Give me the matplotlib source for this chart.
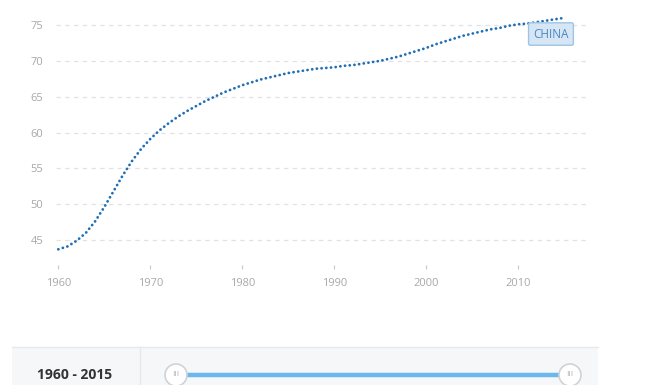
import matplotlib
matplotlib.use("Agg")
import matplotlib.pyplot as plt
from matplotlib.patches import Rectangle, Ellipse
from matplotlib.lines import Line2D

plt.rcParams['font.family'] = ['Open Sans', 'DejaVu Sans']

years = list(range(1960, 2016))
life_expectancy = [
    43.7, 44.1, 44.9, 46.0, 47.6, 49.6, 51.8, 54.0, 56.0, 57.7,
    59.1, 60.3, 61.3, 62.2, 63.0, 63.7, 64.4, 65.0, 65.6, 66.1,
    66.6, 67.0, 67.4, 67.7, 68.0, 68.3, 68.5, 68.7, 68.9, 69.0,
    69.1, 69.3, 69.4, 69.6, 69.8, 70.0, 70.3, 70.6, 71.0, 71.4,
    71.8, 72.3, 72.7, 73.1, 73.5, 73.8, 74.1, 74.4, 74.6, 74.9,
    75.1, 75.2, 75.4, 75.6, 75.8, 76.0,
]
series_label = "CHINA"
y_ticks = [45, 50, 55, 60, 65, 70, 75]
x_ticks = [1960, 1970, 1980, 1990, 2000, 2010]

W, H = 655, 385
fig = plt.figure(figsize=(W / 100, H / 100), dpi=100)

def px(x0, y0, x1, y1):
    return [x0 / W, 1 - y1 / H, (x1 - x0) / W, (y1 - y0) / H]

ax = fig.add_axes(px(56, 10, 588, 265))
ppy = 9.2
ppu = 7.167
ax.set_xlim(1960 - 2.3 / ppy, 1960 + (588 - 58.3) / ppy)
ax.set_ylim(45 - 25 / ppu, 75 + 15 / ppu)

for s in ax.spines.values():
    s.set_visible(False)

ax.set_yticks(y_ticks)
ax.set_xticks(x_ticks)
ax.grid(axis='y', color='#e2e2e2', linestyle=(0, (3.5, 3.5)), linewidth=0.9)
ax.grid(axis='x', visible=False)
ax.tick_params(axis='y', length=0, pad=9, labelsize=8, labelcolor='#a8a8a8')
ax.tick_params(axis='x', length=3, width=0.8, color='#c8c8c8', direction='out',
               pad=6, labelsize=8, labelcolor='#a8a8a8')

ax.plot(years, life_expectancy, color='#1f6fb6', linewidth=2.0,
        linestyle=(0, (0.05, 1.65)), dash_capstyle='round', solid_capstyle='round')

# label box
lx, ly = years[-1] - 1.45, life_expectancy[-1] - 2.26
ax.text(lx, ly, series_label, ha='center', va='center', fontsize=8.5, color='#4a87c2',
        bbox=dict(boxstyle='round,pad=0.4,rounding_size=0.15', facecolor='#d7e6f4',
                  edgecolor='#9fc4e4', linewidth=1))

# bottom slider panel
fig.patches.append(Rectangle((12 / W, 0), (598 - 12) / W, (385 - 347) / H,
                             transform=fig.transFigure, facecolor='#f6f7f9',
                             edgecolor='none', zorder=0))
fig.lines.append(Line2D([12 / W, 598 / W], [1 - 347 / H, 1 - 347 / H],
                        transform=fig.transFigure, color='#e6e8ec', linewidth=1))
fig.lines.append(Line2D([140 / W, 140 / W], [0, 1 - 347 / H],
                        transform=fig.transFigure, color='#e6e8ec', linewidth=1))
fig.text(75 / W, 1 - 375 / H, f"{years[0]} - {years[-1]}", ha='center', va='center',
         fontsize=10, fontweight='bold', color='#333333')
fig.lines.append(Line2D([176 / W, 570 / W], [1 - 375 / H, 1 - 375 / H],
                        transform=fig.transFigure, color='#6bb8ec', linewidth=3.2,
                        solid_capstyle='butt', zorder=1))
for hx in (176, 570):
    fig.patches.append(Ellipse((hx / W, 1 - 375 / H), 22 / W, 22 / H,
                               transform=fig.transFigure, facecolor='white',
                               edgecolor='#cfd3d8', linewidth=1.2, zorder=2))
    fig.text(hx / W, 1 - 375 / H, "III", ha='center', va='center', fontsize=6,
             color='#b0b0b0', zorder=3)

fig.savefig("out.png", dpi=100)
